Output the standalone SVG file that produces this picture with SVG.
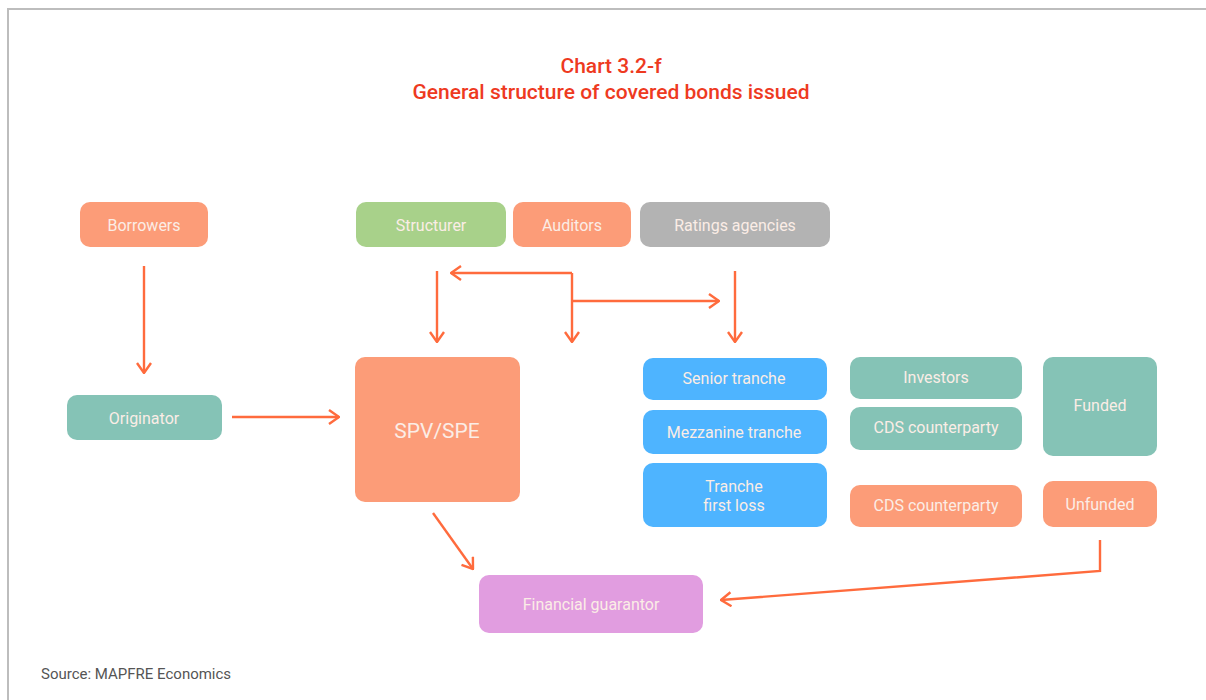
<svg xmlns="http://www.w3.org/2000/svg" width="1206" height="700" viewBox="0 0 1206 700">
<defs>
<marker id="ah" viewBox="0 0 12 16" refX="11" refY="8" markerWidth="12" markerHeight="16" markerUnits="userSpaceOnUse" orient="auto">
<path d="M1,1 L11,8 L1,15" fill="none" stroke="#FF6B3D" stroke-width="2.4"/>
</marker>
</defs>
<style>
.t{font-family:Roboto,"Liberation Sans",sans-serif;font-size:16px;fill:#FBEDE6;text-anchor:middle}
.title{font-family:Roboto,"Liberation Sans",sans-serif;font-size:21px;fill:#EE3A1F;text-anchor:middle;font-weight:500}
.c{fill:none;stroke:#FF6B3D;stroke-width:2.4}
.salmon{fill:#FC9C78}.green{fill:#A8D18A}.gray{fill:#B3B3B3}.teal{fill:#85C3B6}.blue{fill:#4EB4FF}.pink{fill:#E19DE0}
</style>
<rect width="1206" height="700" fill="#fff"/>
<path d="M8,700 V9 H1206" fill="none" stroke="#BDBDBD" stroke-width="2"/>
<text class="title" x="611" y="73">Chart 3.2-f</text>
<text class="title" x="611" y="99">General structure of covered bonds issued</text>

<g id="connectors">
<path class="c" d="M144,266 V373" marker-end="url(#ah)"/>
<path class="c" d="M232,417 H339" marker-end="url(#ah)"/>
<path class="c" d="M437,271 V342" marker-end="url(#ah)"/>
<path class="c" d="M572,273 H451" marker-end="url(#ah)"/>
<path class="c" d="M572,273 V342" marker-end="url(#ah)"/>
<path class="c" d="M572,301 H719" marker-end="url(#ah)"/>
<path class="c" d="M735,271 V342" marker-end="url(#ah)"/>
<path class="c" d="M433,513 L473,569" marker-end="url(#ah)"/>
<path class="c" d="M1100,540 V571 L721,600" marker-end="url(#ah)"/>
</g>

<g id="borrowers"><rect class="salmon" x="80" y="202" width="128" height="45" rx="10"/><text class="t" x="144" y="231">Borrowers</text></g>
<g id="structurer"><rect class="green" x="356" y="202" width="150" height="45" rx="10"/><text class="t" x="431" y="231">Structurer</text></g>
<g id="auditors"><rect class="salmon" x="513" y="202" width="118" height="45" rx="10"/><text class="t" x="572" y="231">Auditors</text></g>
<g id="ratings"><rect class="gray" x="640" y="202" width="190" height="45" rx="10"/><text class="t" x="735" y="231">Ratings agencies</text></g>
<g id="originator"><rect class="teal" x="67" y="395" width="155" height="45" rx="10"/><text class="t" x="144" y="424">Originator</text></g>
<g id="spv"><rect class="salmon" x="355" y="357" width="165" height="145" rx="10"/><text class="t" x="437" y="438" style="font-size:21px">SPV/SPE</text></g>
<g id="senior"><rect class="blue" x="643" y="358" width="184" height="42" rx="10"/><text class="t" x="734" y="384">Senior tranche</text></g>
<g id="mezzanine"><rect class="blue" x="643" y="410" width="184" height="44" rx="10"/><text class="t" x="734" y="438">Mezzanine tranche</text></g>
<g id="firstloss"><rect class="blue" x="643" y="463" width="184" height="64" rx="10"/><text class="t" x="734" y="492">Tranche</text><text class="t" x="734" y="511">first loss</text></g>
<g id="investors"><rect class="teal" x="850" y="357" width="172" height="42" rx="10"/><text class="t" x="936" y="383">Investors</text></g>
<g id="cds1"><rect class="teal" x="850" y="407" width="172" height="43" rx="10"/><text class="t" x="936" y="433">CDS counterparty</text></g>
<g id="cds2"><rect class="salmon" x="850" y="485" width="172" height="42" rx="10"/><text class="t" x="936" y="511">CDS counterparty</text></g>
<g id="funded"><rect class="teal" x="1043" y="357" width="114" height="99" rx="10"/><text class="t" x="1100" y="411">Funded</text></g>
<g id="unfunded"><rect class="salmon" x="1043" y="481" width="114" height="46" rx="10"/><text class="t" x="1100" y="510">Unfunded</text></g>
<g id="guarantor"><rect class="pink" x="479" y="575" width="224" height="58" rx="10"/><text class="t" x="591" y="610">Financial guarantor</text></g>

<text x="41" y="679" style="font-family:Roboto,'Liberation Sans',sans-serif;font-size:15px;fill:#555">Source: MAPFRE Economics</text>
</svg>
